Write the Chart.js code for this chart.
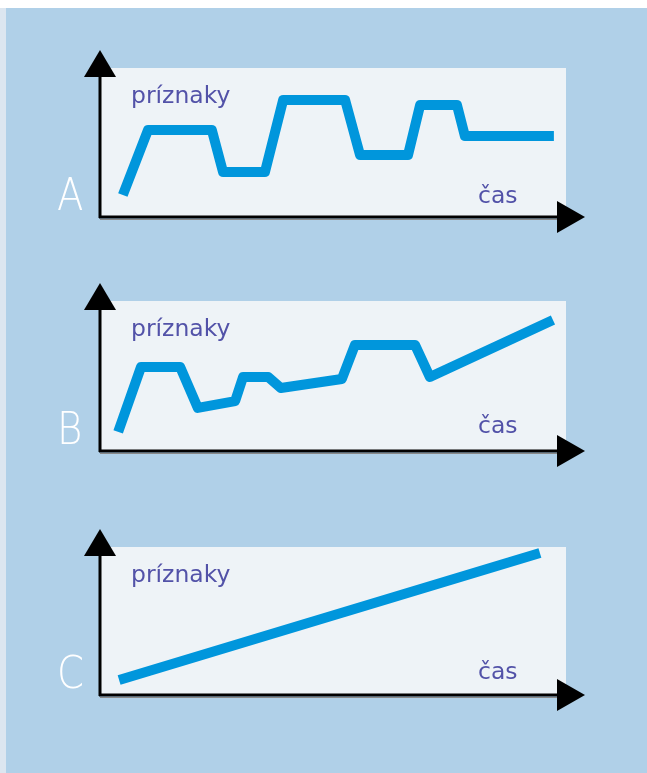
<!DOCTYPE html>
<html>
<head>
<meta charset="utf-8">
<script src="https://cdn.jsdelivr.net/npm/chart.js@4"></script>
<style>
  html, body { margin: 0; padding: 0; }
  body { width: 647px; height: 773px; background: #b0d0e8; position: relative; overflow: hidden; }
  #topStrip { position: absolute; left: 0; top: 0; width: 647px; height: 8px; background: #ffffff; }
  #leftStrip { position: absolute; left: 0; top: 8px; width: 6px; height: 765px; background: #dce6f0; }
  canvas { position: absolute; left: 0; }
</style>
</head>
<body>
<div id="topStrip"></div>
<div id="leftStrip"></div>
<canvas id="chartA" width="647" height="210" style="top:40px"></canvas>
<canvas id="chartB" width="647" height="210" style="top:270px"></canvas>
<canvas id="chartC" width="647" height="210" style="top:515px"></canvas>
<script>
// time (x) and symptoms (y), both 0-100
const timeA = [4.9, 10.3, 24.0, 26.4, 35.4, 39.3, 52.6, 55.8, 66.1, 68.7, 76.6, 78.3, 97.4];
const symptomsA = [14.8, 58.4, 58.4, 30.2, 30.2, 78.5, 78.5, 41.6, 41.6, 75.2, 75.2, 54.4, 54.4];

const timeB = [3.9, 8.8, 17.2, 21.0, 29.0, 30.7, 36.1, 38.8, 51.9, 54.7, 67.6, 70.8, 97.2];
const symptomsB = [12.7, 56, 56, 28.7, 33.3, 49.3, 49.3, 42, 48, 70.7, 70.7, 49.3, 87.3];

const timeC = [4.1, 94.4];
const symptomsC = [10.1, 96];

const yLabel = "príznaky";
const xLabel = "čas";

const axesArrows = {
  id: 'axesArrows',
  beforeDraw(chart) {
    const { ctx, chartArea: a } = chart;
    ctx.save();
    ctx.fillStyle = '#eef3f7';
    ctx.fillRect(a.left, a.top, a.right - a.left, a.bottom - a.top);
    ctx.restore();
  },
  afterDraw(chart, args, opts) {
    const { ctx, chartArea: a } = chart;
    ctx.save();
    // x axis shadow
    ctx.strokeStyle = '#888888';
    ctx.lineWidth = 1;
    ctx.beginPath();
    ctx.moveTo(a.left, a.bottom + 2.5);
    ctx.lineTo(a.right + 10, a.bottom + 2.5);
    ctx.stroke();

    ctx.strokeStyle = '#000000';
    ctx.lineWidth = 3;
    const yTip = a.top - 18;
    const xTip = a.right + 19;
    ctx.beginPath();
    ctx.moveTo(a.left, a.bottom + 1);
    ctx.lineTo(a.left, yTip + 20);
    ctx.moveTo(a.left - 1, a.bottom);
    ctx.lineTo(xTip - 20, a.bottom);
    ctx.stroke();

    ctx.fillStyle = '#000000';
    ctx.beginPath();
    ctx.moveTo(a.left, yTip);
    ctx.lineTo(a.left + 16, yTip + 27);
    ctx.lineTo(a.left - 16, yTip + 27);
    ctx.closePath();
    ctx.fill();
    ctx.beginPath();
    ctx.moveTo(xTip, a.bottom);
    ctx.lineTo(xTip - 28, a.bottom - 16);
    ctx.lineTo(xTip - 28, a.bottom + 16);
    ctx.closePath();
    ctx.fill();

    ctx.fillStyle = '#5252a8';
    ctx.font = "23.5px 'DejaVu Sans'";
    ctx.textBaseline = 'alphabetic';
    ctx.fillText(yLabel, 131, a.top + 35);
    ctx.fillText(xLabel, 478, a.bottom - opts.xLabelGap);

    ctx.fillStyle = '#ffffff';
    ctx.font = "200 44px 'DejaVu Sans'";
    ctx.translate(57, a.bottom - 7);
    ctx.scale(0.88, 1);
    ctx.fillText(opts.letter, 0, 0);
    ctx.restore();
  }
};

function makeChart(id, xs, ys, letter, pad, xLabelGap) {
  return new Chart(document.getElementById(id), {
    type: 'line',
    plugins: [axesArrows],
    data: {
      datasets: [{
        data: xs.map((x, i) => ({ x: x, y: ys[i] })),
        borderColor: '#0096dc',
        borderWidth: 10,
        borderJoinStyle: 'round',
        borderCapStyle: 'butt',
        pointRadius: 0,
        tension: 0,
        fill: false,
      }],
    },
    options: {
      responsive: false,
      animation: false,
      devicePixelRatio: 1,
      layout: { padding: { left: 100, right: 81, top: pad[0], bottom: pad[1] } },
      scales: {
        x: { type: 'linear', min: 0, max: 100, display: false },
        y: { min: 0, max: 100, display: false },
      },
      plugins: {
        legend: { display: false },
        tooltip: { enabled: false },
        axesArrows: { letter: letter, xLabelGap: xLabelGap },
      },
    },
  });
}

makeChart('chartA', timeA, symptomsA, 'A', [28, 33], 14);
makeChart('chartB', timeB, symptomsB, 'B', [31, 29], 18);
makeChart('chartC', timeC, symptomsC, 'C', [32, 30], 16);
</script>
</body>
</html>
